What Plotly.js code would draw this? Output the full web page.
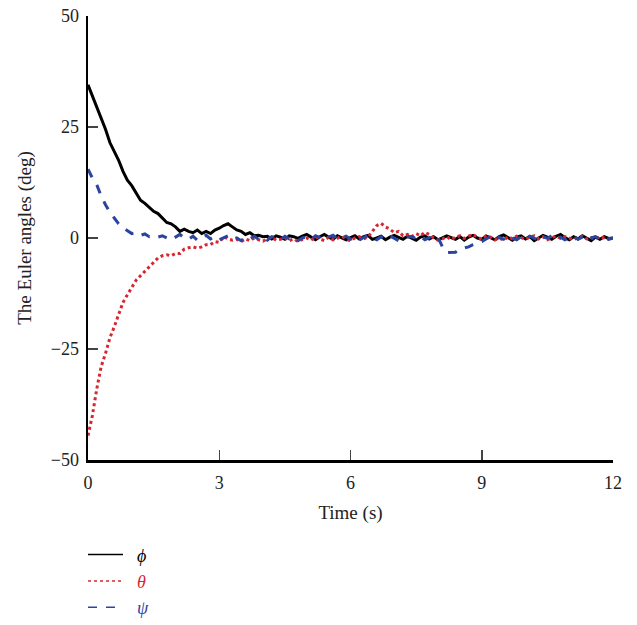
<!DOCTYPE html>
<html>
<head>
<meta charset="utf-8">
<script src="https://cdn.plot.ly/plotly-3.0.1.min.js"></script>
<style>html,body{margin:0;padding:0;background:#fff;}#chart{width:637px;height:625px;}</style>
</head>
<body>
<div id="chart"></div>
<script>
// Sampling of the time axis (s)
const T_START = 0;
const T_STEP = 0.1;

// Euler angles (deg), sampled every 0.1 s from 0 to 12 s
const phi = [
  34.5, 32, 29.5, 27, 24.5, 21.5, 19.5, 17.5, 15, 13,
  11.8, 10, 8.5, 7.8, 6.8, 6, 5.5, 4.5, 3.5, 3.2,
  2.5, 1.5, 2.0, 1.5, 1.2, 1.8, 1.0, 1.5, 1.0, 1.8,
  2.2, 2.8, 3.2, 2.5, 1.8, 1.5, 0.8, 1.2, 0.5, 0.6,
  0.3, 0.4, -0.2, 0.5, 0.2, -0.3, 0.5, 0.3, -0.1, 0.4,
  0.8, 0.2, -0.4, 0.3, 0.8, 0.2, -0.3, 0.5, 0.0, -0.4,
  0.1, 0.5, -0.2, 0.3, 0.6, -0.3, 0.0, 0.4, -0.4, 0.2,
  0.6, 0.1, -0.3, 0.4, 0.0, -0.5, 0.2, 0.5, -0.2, 0.3,
  -0.4, 0.0, 0.5, 0.1, -0.3, 0.3, -0.5, 0.2, 0.6, 0.0,
  -0.3, 0.4, 0.1, -0.4, 0.3, 0.7, 0.1, -0.5, 0.2, 0.5,
  -0.2, 0.3, -0.6, 0.0, 0.6, 0.2, -0.3, 0.4, 0.8, 0.1,
  -0.4, 0.3, -0.2, 0.5, 0.0, -0.6, 0.2, -0.3, 0.3, -0.1,
  0.0
];
const theta = [
  -44.5, -40, -34, -29, -26, -22.5, -20, -17, -14.5, -12.8,
  -11, -9.5, -8.5, -7.5, -6.5, -5.5, -4.5, -4, -3.8, -4,
  -3.5, -3.5, -2.5, -2.2, -2.0, -2.3, -2.0, -1.5, -1.5, -0.8,
  -1.0, 0.3, -0.2, -0.5, -0.3, -0.8, -0.2, -0.6, 0.0, -0.4,
  -0.7, -0.2, 0.2, -0.5, -0.3, 0.1, -0.6, -0.2, -0.8, -0.3,
  0.0, -0.5, 0.3, -0.2, -0.6, 0.2, -0.4, -0.1, 0.4, -0.3,
  -0.6, 0.0, 0.3, -0.2, 0.2, 1.5, 2.8, 3.3, 2.5, 2.0,
  1.2, 1.5, 0.5, 0.8, 0.3, 1.0, 0.5, 1.3, 0.8, 0.0,
  -0.5, -0.2, 0.3, -0.4, 0.2, 0.5, -0.1, 0.4, 0.8, 0.2,
  -0.3, 0.5, 0.2, -0.4, 0.0, -0.5, 0.3, -0.2, 0.4, 0.1,
  -0.3, 0.2, 0.5, -0.2, 0.3, -0.4, 0.1, 0.5, -0.1, 0.3,
  0.0, -0.4, 0.2, 0.4, -0.2, 0.1, -0.3, 0.3, 0.0, -0.2,
  0.0
];
const psi = [
  15.5, 13.5, 12, 9.5, 7.5, 5.8, 4.5, 3.2, 2.3, 1.6,
  1.0, 1.2, 0.6, 0.9, 0.3, 0.5, 0.2, 0.5, 0.0, -0.4,
  0.2, 0.8, 0.0, -0.3, 0.4, -0.5, 0.2, 0.6, -0.2, 0.3,
  -0.4, 0.1, 0.5, -0.3, 0.0, -0.6, 0.2, -0.2, 0.4, -0.3,
  0.1, -0.5, 0.3, 0.0, -0.4, 0.4, -0.2, 0.2, -0.6, 0.0,
  0.3, -0.3, 0.5, 0.1, -0.4, 0.2, 0.6, -0.2, 0.0, 0.4,
  -0.3, 0.2, -0.5, 0.1, 0.6, 0.0, -0.4, 0.3, -0.2, 0.5,
  0.0, -0.6, -0.3, 0.2, 0.4, -0.2, 0.3, -0.4, 0.1, -0.2,
  0.2, -2.0, -3.3, -3.3, -3.2, -2.5, -2.2, -2.0, -1.5, -1.2,
  -0.8, -0.2, 0.3, -0.4, 0.2, -0.3, 0.5, 0.0, -0.4, 0.3,
  -0.2, 0.4, 0.0, -0.5, 0.3, -0.1, 0.5, -0.3, 0.2, -0.4,
  0.1, 0.4, -0.3, 0.2, -0.5, 0.0, 0.3, -0.2, 0.1, -0.3,
  0.0
];

const xTicks = [0, 3, 6, 9, 12];
const yTicks = [-50, -25, 0, 25, 50];
const seriesNames = ['ϕ', 'θ', 'ψ'];

const C_PHI = '#000000', C_THETA = '#d7262f', C_PSI = '#2b44a0';
const FONT = 'Liberation Serif, Times New Roman, serif';

function curve(y, color, dash, width) {
  return {type: 'scatter', mode: 'lines', x0: T_START, dx: T_STEP, y: y,
    line: {color: color, dash: dash, width: width, shape: 'linear'},
    showlegend: false, hoverinfo: 'skip'};
}
function legendEntry(name, color, dash) {
  return {type: 'scatter', mode: 'lines', x: [null], y: [null],
    name: '<span style="color:' + color + '">\u00A0\u00A0<i>' + name + '</i></span>',
    line: {color: color, dash: dash, width: 1.5}, showlegend: true};
}

const data = [
  curve(phi, C_PHI, 'solid', 3),
  curve(theta, C_THETA, 'dot', 3),
  curve(psi, C_PSI, 'dash', 3),
  legendEntry(seriesNames[0], C_PHI, 'solid'),
  legendEntry(seriesNames[1], C_THETA, 'dot'),
  legendEntry(seriesNames[2], C_PSI, 'dash')
];

const layout = {
  width: 637, height: 625,
  margin: {l: 88, r: 24, t: 16, b: 165, autoexpand: false},
  paper_bgcolor: '#fff', plot_bgcolor: '#fff',
  font: {family: FONT, size: 18, color: '#222'},
  xaxis: {
    range: [0, 12], tickvals: xTicks, ticks: 'inside', ticklen: 10, tickwidth: 1.5, tickcolor: '#444',
    showline: true, linecolor: '#000', linewidth: 2.5, showgrid: false, zeroline: false,
    tickfont: {size: 18, family: FONT}, ticklabelstandoff: 5,
    title: {text: 'Time (s)', font: {size: 19, family: FONT}, standoff: 14}
  },
  yaxis: {
    range: [-50, 50], tickvals: yTicks, ticks: 'inside', ticklen: 10, tickwidth: 1.5, tickcolor: '#444',
    showline: true, linecolor: '#000', linewidth: 2.5, showgrid: false, zeroline: false,
    tickfont: {size: 18, family: FONT}, ticklabelstandoff: 3,
    title: {text: 'The Euler angles (deg)', font: {size: 19, family: FONT}, standoff: 14}
  },
  legend: {
    x: -0.0095, xanchor: 'left', y: -0.172, yanchor: 'top',
    itemwidth: 35, font: {size: 18, family: FONT}, bgcolor: 'rgba(0,0,0,0)',
    tracegroupgap: 0
  }
};

Plotly.newPlot('chart', data, layout, {staticPlot: true, displayModeBar: false});
</script>
</body>
</html>
